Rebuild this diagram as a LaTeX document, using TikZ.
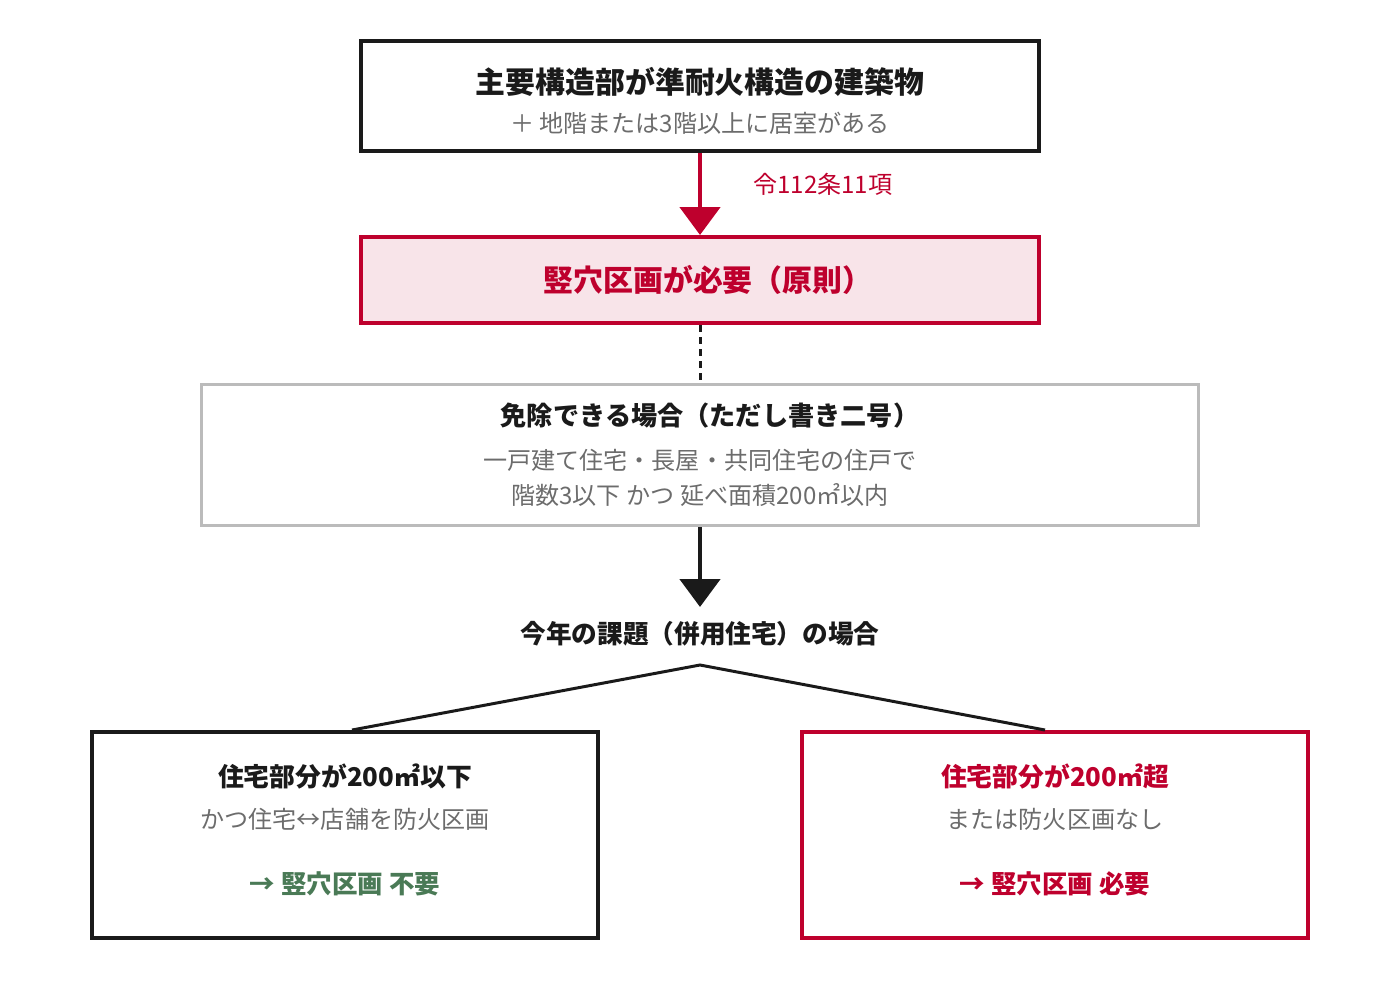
\documentclass[tikz,border=0pt]{standalone}
\usepackage{fontspec}
\setmainfont{Noto Sans CJK JP}
\usepackage{tikz}
\usetikzlibrary{arrows.meta}
\definecolor{ink}{RGB}{26,26,26}
\definecolor{crimson}{RGB}{190,0,45}
\definecolor{blush}{RGB}{248,228,233}
\definecolor{greyline}{RGB}{187,187,187}
\definecolor{greytext}{RGB}{108,108,108}
\definecolor{leaf}{RGB}{74,122,86}

\begin{document}
\begin{tikzpicture}[
    box/.style={draw=ink, line width=2.27pt, inner sep=0pt},
    head/.style={font=\fontsize{#1}{#1}\selectfont\bfseries, text=ink},
    note/.style={font=\fontsize{13.7pt}{13.7pt}\selectfont, text=greytext},
    flow/.style={line width=2.8pt, -{Triangle[width=0.8cm,length=0.56cm]}}
  ]
          \useasboundingbox (0,0) rectangle (28,-20);
          % boxes
          \node[box, minimum width=13.56cm, minimum height=2.2cm] (main) at (14,-1.92) {};
          \node[box, draw=crimson, fill=blush, minimum width=13.56cm, minimum height=1.72cm] (rule) at (14,-5.6) {};
          \node[box, draw=greyline, line width=1.7pt, minimum width=19.94cm, minimum height=2.82cm] (exempt) at (14,-9.1) {};
          \node[box, minimum width=10.12cm, minimum height=4.12cm] (small) at (6.9,-16.7) {};
          \node[box, draw=crimson, minimum width=10.12cm, minimum height=4.12cm] (large) at (21.1,-16.7) {};
          % texts
          \node[head=17pt] (maint) at (14,-1.64) {主要構造部が準耐火構造の建築物};
          \node[note] (mains) at (14,-2.46) {＋ 地階または3階以上に居室がある};
          \node[head=17pt, text=crimson] (rulet) at (14.16,-5.6) {竪穴区画が必要（原則）};
          \node[head=14.9pt] (exemptt) at (14.2,-8.32) {免除できる場合（ただし書き二号）};
          \node[note] (exempta) at (14,-9.2) {一戸建て住宅・長屋・共同住宅の住戸で};
          \node[note] (exemptb) at (14,-9.9) {階数3以下 かつ 延べ面積200㎡以内};
          \node[head=14.6pt] (case) at (14,-12.68) {今年の課題（併用住宅）の場合};
          \node[head=14.7pt] (smallt) at (6.9,-15.52) {住宅部分が200㎡以下};
          \node[note] (smalls) at (6.9,-16.38) {かつ住宅↔店舗を防火区画};
          \node[head=14.5pt, text=leaf] (smallr) at (6.9,-17.68) {→ 竪穴区画 不要};
          \node[head=14.7pt, text=crimson] (larget) at (21.1,-15.52) {住宅部分が200㎡超};
          \node[note] (larges) at (21.1,-16.38) {または防火区画なし};
          \node[head=14.5pt, text=crimson] (larger) at (21.1,-17.68) {→ 竪穴区画 必要};
          % connectors
          \draw[flow, crimson] (main.south) -- (rule.north)
            node[pos=0.38, right=0.9cm, font=\fontsize{13.7pt}{13.7pt}\selectfont, text=crimson] (law) {令112条11項};
          \draw[ink, line width=1.7pt, dash pattern=on 0.14cm off 0.1cm] (rule.south) -- (exempt.north);
          \draw[flow, ink] (exempt.south) -- ++(0,-1.6) coordinate (tip);
          \coordinate (apex) at (14,-13.3);
          \draw[ink, line width=1.7pt] ([xshift=0.14cm]small.north) -- (apex) -- ([xshift=-0.2cm]large.north);
        \end{tikzpicture}
\end{document}
